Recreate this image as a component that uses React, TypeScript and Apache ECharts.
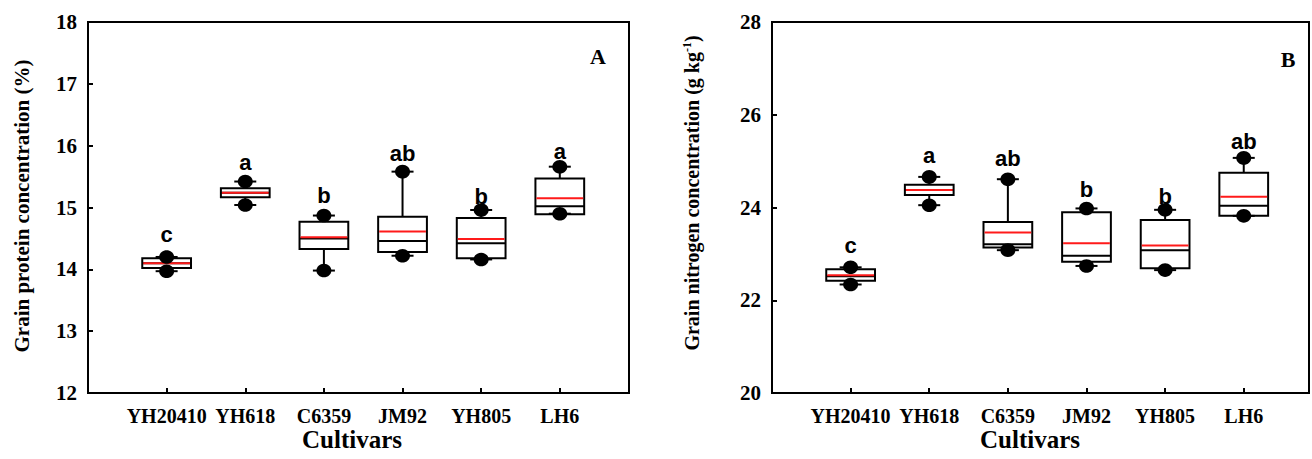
import React, { useEffect, useRef } from "react";
import * as echarts from "echarts";

const categories = ["YH20410", "YH618", "C6359", "JM92", "YH805", "LH6"];

// Panel A: grain protein concentration (%)
const proteinLowerDot = [13.97, 15.04, 13.98, 14.22, 14.16, 14.9];
const proteinQ1 = [14.02, 15.165, 14.33, 14.28, 14.18, 14.89];
const proteinMedian = [14.1, 15.24, 14.5, 14.46, 14.42, 15.02];
const proteinMean = [14.1, 15.24, 14.52, 14.61, 14.49, 15.15];
const proteinQ3 = [14.18, 15.31, 14.77, 14.85, 14.83, 15.47];
const proteinUpperDot = [14.2, 15.42, 14.87, 15.58, 14.96, 15.66];
const proteinLetters = ["c", "a", "b", "ab", "b", "a"];
const proteinLetterY = [14.56, 15.72, 15.2, 15.88, 15.17, 15.91];

// Panel B: grain nitrogen concentration (g kg-1)
const nitrogenLowerDot = [22.34, 24.05, 23.08, 22.74, 22.65, 23.82];
const nitrogenQ1 = [22.42, 24.27, 23.14, 22.83, 22.69, 23.82];
const nitrogenMedian = [22.52, 24.38, 23.21, 22.96, 23.08, 24.04];
const nitrogenMean = [22.54, 24.38, 23.46, 23.23, 23.18, 24.23];
const nitrogenQ3 = [22.67, 24.49, 23.69, 23.9, 23.73, 24.75];
const nitrogenUpperDot = [22.71, 24.66, 24.61, 23.98, 23.95, 25.07];
const nitrogenLetters = ["c", "a", "ab", "b", "b", "ab"];
const nitrogenLetterY = [23.19, 25.13, 25.05, 24.38, 24.23, 25.42];

const SERIF = '"Liberation Serif", "Times New Roman", Times, serif';
const SANS = '"Liberation Sans", Arial, Helvetica, sans-serif';
const BOX_W = 0.62;

function buildRows(
  lo: number[], q1: number[], med: number[], mean: number[], q3: number[], up: number[], ly: number[]
) {
  return categories.map((_, i) => [i + 1, lo[i], q1[i], med[i], mean[i], q3[i], up[i], ly[i]]);
}

function makeRenderItem(letters: string[]) {
  return (params: any, api: any) => {
    const xv = api.value(0);
    const pt = (v: number) => api.coord([xv, v]);
    const cx = pt(api.value(2))[0];
    const yLo = pt(api.value(1))[1];
    const yQ1 = pt(api.value(2))[1];
    const yMed = pt(api.value(3))[1];
    const yMean = pt(api.value(4))[1];
    const yQ3 = pt(api.value(5))[1];
    const yUp = pt(api.value(6))[1];
    const yLet = pt(api.value(7))[1];
    const half = api.size([BOX_W, 0])[0] / 2;
    const black = { stroke: "#000", lineWidth: 2 };
    const capHalf = 11;
    return {
      type: "group",
      children: [
        { type: "line", shape: { x1: cx, y1: yQ3, x2: cx, y2: yUp }, style: black },
        { type: "line", shape: { x1: cx, y1: yQ1, x2: cx, y2: yLo }, style: black },
        {
          type: "rect",
          shape: { x: cx - half, y: yQ3, width: half * 2, height: yQ1 - yQ3 },
          style: { fill: "#fff", stroke: "#000", lineWidth: 2 },
        },
        { type: "line", shape: { x1: cx - half, y1: yMed, x2: cx + half, y2: yMed }, style: black },
        {
          type: "line",
          shape: { x1: cx - half + 1, y1: yMean, x2: cx + half - 1, y2: yMean },
          style: { stroke: "#ff1a1a", lineWidth: 2 },
        },
        { type: "line", shape: { x1: cx - capHalf, y1: yUp, x2: cx + capHalf, y2: yUp }, style: black },
        { type: "line", shape: { x1: cx - capHalf, y1: yLo, x2: cx + capHalf, y2: yLo }, style: black },
        { type: "ellipse", shape: { cx, cy: yUp, rx: 7.5, ry: 6.8 }, style: { fill: "#000" } },
        { type: "ellipse", shape: { cx, cy: yLo, rx: 7.5, ry: 6.8 }, style: { fill: "#000" } },
        {
          type: "text",
          x: cx,
          y: yLet,
          style: {
            text: letters[params.dataIndex],
            font: `bold 22px ${SANS}`,
            fill: "#000",
            align: "center",
            verticalAlign: "middle",
            textAlign: "center",
            textVerticalAlign: "middle",
          },
        },
      ],
    };
  };
}

function xAxisFor(gridIndex: number, max: number) {
  return {
    gridIndex,
    type: "value",
    min: 0,
    max,
    interval: 1,
    axisLine: { show: true, lineStyle: { color: "#000", width: 2 } },
    axisTick: { show: true, inside: true, length: 5, lineStyle: { color: "#000", width: 2 } },
    axisLabel: {
      color: "#000",
      fontFamily: SERIF,
      fontWeight: "bold",
      fontSize: 20,
      margin: 13,
      formatter: (v: number) =>
        Number.isInteger(v) && v >= 1 && v <= categories.length ? categories[v - 1] : "",
    },
    splitLine: { show: false },
  };
}

function yAxisFor(gridIndex: number, min: number, max: number, interval: number) {
  return {
    gridIndex,
    type: "value",
    min,
    max,
    interval,
    axisLine: { show: true, lineStyle: { color: "#000", width: 2 } },
    axisTick: { show: true, inside: true, length: 5, lineStyle: { color: "#000", width: 2 } },
    axisLabel: { color: "#000", fontFamily: SERIF, fontWeight: "bold", fontSize: 21, margin: 11 },
    splitLine: { show: false },
  };
}

function textEl(x: number, y: number, text: string, size: number, rotation = 0, rich?: any) {
  return {
    type: "text",
    x,
    y,
    rotation,
    style: {
      text,
      font: `bold ${size}px ${SERIF}`,
      fontFamily: SERIF,
      fontWeight: "bold",
      fontSize: size,
      fill: "#000",
      align: "center",
      verticalAlign: "middle",
      textAlign: "center",
      textVerticalAlign: "middle",
      ...(rich ? { rich } : {}),
    },
  };
}

export default function App() {
  const ref = useRef<HTMLDivElement>(null);
  useEffect(() => {
    if (!ref.current) return;
    const chart = echarts.init(ref.current, undefined, { renderer: "svg" });
    const option: any = {
      animation: false,
      backgroundColor: "#fff",
      grid: [
        { left: 88, top: 22, width: 541, height: 371, show: true, borderColor: "#000", borderWidth: 2, backgroundColor: "transparent" },
        { left: 772, top: 22, width: 537, height: 371, show: true, borderColor: "#000", borderWidth: 2, backgroundColor: "transparent" },
      ],
      xAxis: [xAxisFor(0, 6.88), xAxisFor(1, 6.83)],
      yAxis: [yAxisFor(0, 12, 18, 1), yAxisFor(1, 20, 28, 2)],
      series: [
        {
          type: "custom",
          xAxisIndex: 0,
          yAxisIndex: 0,
          renderItem: makeRenderItem(proteinLetters),
          encode: { x: 0, y: [1, 2, 3, 4, 5, 6, 7] },
          data: buildRows(proteinLowerDot, proteinQ1, proteinMedian, proteinMean, proteinQ3, proteinUpperDot, proteinLetterY),
          z: 5,
        },
        {
          type: "custom",
          xAxisIndex: 1,
          yAxisIndex: 1,
          renderItem: makeRenderItem(nitrogenLetters),
          encode: { x: 0, y: [1, 2, 3, 4, 5, 6, 7] },
          data: buildRows(nitrogenLowerDot, nitrogenQ1, nitrogenMedian, nitrogenMean, nitrogenQ3, nitrogenUpperDot, nitrogenLetterY),
          z: 5,
        },
      ],
      graphic: [
        textEl(22, 206, "Grain protein concentration (%)", 21, Math.PI / 2),
        textEl(692, 193, "Grain nitrogen concentration (g kg{sup|-1})", 20, Math.PI / 2, {
          sup: { fontFamily: SERIF, fontWeight: "bold", fontSize: 12, verticalAlign: "top", fill: "#000", padding: [0, 0, 10, 0] },
        }),
        textEl(352, 439, "Cultivars", 25),
        textEl(1030, 439, "Cultivars", 25),
        textEl(598, 56, "A", 22),
        textEl(1288, 59, "B", 22),
      ],
    };
    chart.setOption(option);
    return () => chart.dispose();
  }, []);
  return (
    <div
      ref={ref}
      style={{ position: "fixed", left: 0, top: 0, width: 1312, height: 459, background: "#fff" }}
    />
  );
}
